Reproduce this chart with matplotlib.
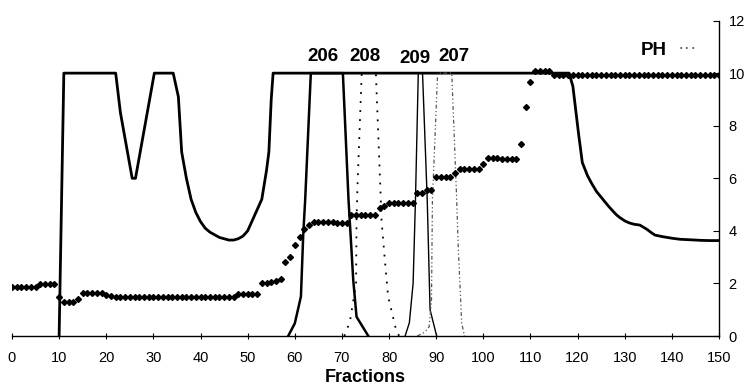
import numpy as np
import matplotlib.pyplot as plt

plt.rcParams['font.family'] = ['Liberation Sans', 'DejaVu Sans']

# absorbance trace (saturates at 10)
abs_x = [10, 11, 22, 23, 25.5, 26.2, 30.2, 34.2, 35.3, 36, 37, 38, 39, 40, 41, 42, 43, 44, 45,
         46, 47, 48, 49, 50, 51, 52, 53, 54, 54.5, 55, 55.4, 118.2, 119, 120.2, 121, 122.1,
         123, 124, 125.5, 126.5, 127.5, 128.3, 129, 130.1, 131, 132, 133.2, 134.7, 135.5,
         136.4, 138, 140, 141.7, 144, 146, 148, 150]
abs_y = [0, 10, 10, 8.5, 6.0, 6.0, 10, 10, 9.1, 7.0, 6.0, 5.2, 4.7, 4.35, 4.1, 3.95, 3.85, 3.75,
         3.7, 3.65, 3.65, 3.7, 3.8, 4.0, 4.4, 4.8, 5.2, 6.3, 7.0, 9.0, 10, 10, 9.5, 7.7, 6.6,
         6.1, 5.8, 5.5, 5.17, 4.95, 4.75, 4.6, 4.5, 4.37, 4.3, 4.25, 4.22, 4.06, 3.95, 3.84,
         3.78, 3.72, 3.68, 3.66, 3.64, 3.63, 3.63]

# peaks
p206_x = [58.6, 60, 61.3, 61.8, 62.2, 63.4, 70.2, 71.4, 72.4, 73.1, 75.6]
p206_y = [0, 0.48, 1.5, 3.9, 5.17, 10, 10, 5.17, 2.13, 0.73, 0]
p208_x = [70.5, 71.7, 73, 73.1, 73.3, 74.2, 77.2, 78.2, 78.4, 79.1, 79.8, 81.6, 82.2]
p208_y = [0, 0.55, 2.0, 4.4, 5.7, 10, 10, 5.4, 4.4, 2.9, 1.5, 0.15, 0]
p209_x = [83.4, 84.3, 85.1, 85.6, 86.2, 87.1, 88.1, 88.7, 90.1]
p209_y = [0, 0.5, 2.0, 5.17, 10, 10, 5.17, 1.0, 0]
p207_x = [86, 87.6, 88.5, 89, 89.2, 90.3, 93.3, 94.3, 94.7, 95.4, 96]
p207_y = [0, 0.15, 0.35, 1.37, 5.17, 10, 10, 5.4, 3.3, 0.5, 0]

# pH, one reading per fraction 0..150
ph = [1.85, 1.85, 1.85, 1.85, 1.85, 1.87, 1.97, 1.97, 1.97, 1.97,
      1.5, 1.3, 1.3, 1.3, 1.42, 1.62, 1.62, 1.62, 1.62, 1.62,
      1.57, 1.52, 1.5, 1.48, 1.48, 1.48, 1.48, 1.48, 1.48, 1.48,
      1.48, 1.48, 1.48, 1.48, 1.48, 1.48, 1.48, 1.48, 1.48, 1.48,
      1.48, 1.48, 1.48, 1.48, 1.48, 1.48, 1.48, 1.48, 1.58, 1.6,
      1.6, 1.6, 1.6, 2.0, 2.03, 2.06, 2.1, 2.15, 2.8, 3.0,
      3.45, 3.78, 4.06, 4.22, 4.35, 4.35, 4.35, 4.35, 4.35, 4.3,
      4.3, 4.3, 4.6, 4.6, 4.6, 4.6, 4.6, 4.6, 4.87, 4.95,
      5.07, 5.07, 5.07, 5.07, 5.07, 5.07, 5.45, 5.45, 5.55, 5.55,
      6.06, 6.06, 6.06, 6.06, 6.2, 6.34, 6.34, 6.34, 6.34, 6.34,
      6.56, 6.78, 6.78, 6.78, 6.72, 6.72, 6.72, 6.72, 7.32, 8.7,
      9.65, 10.08, 10.08, 10.08, 10.08, 9.92, 9.92, 9.92, 9.92, 9.92,
      9.92, 9.92, 9.92, 9.92, 9.92, 9.92, 9.92, 9.92, 9.92, 9.92,
      9.92, 9.92, 9.92, 9.92, 9.92, 9.92, 9.92, 9.92, 9.92, 9.92,
      9.92, 9.92, 9.92, 9.92, 9.92, 9.92, 9.92, 9.92, 9.92, 9.92,
      9.92]
fractions = np.arange(len(ph))

peak_labels = ['206', '208', '209', '207']
label_x = [65.9, 74.9, 85.4, 93.8]
label_y = [10.62, 10.62, 10.55, 10.62]

fig = plt.figure(figsize=(7.45, 3.88), dpi=100)
ax = fig.add_axes([0.0161, 0.134, 0.9490, 0.813])

ax.plot(abs_x, abs_y, color='black', lw=2.0, solid_joinstyle='round')
ax.plot(p206_x, p206_y, color='black', lw=1.8)
ax.plot(p208_x, p208_y, color='black', lw=1.3, ls=(0, (1, 4)))
ax.plot(p209_x, p209_y, color='black', lw=1.0)
ax.plot(p207_x, p207_y, color='#555555', lw=0.9, ls=(0, (3, 2, 1, 2, 1, 2)))
ax.plot(fractions, ph, color='black', lw=0, marker='D', markersize=3.0)

for t, x, y in zip(peak_labels, label_x, label_y):
    ax.text(x, y, t, ha='center', va='center', fontsize=13.5, fontweight='bold')
ax.text(136.2, 10.85, 'PH', ha='center', va='center', fontsize=13.5, fontweight='bold')
ax.text(143.2, 10.95, '···', ha='center', va='center', fontsize=14, color='#666666')

ax.set_xlim(0, 150)
ax.set_ylim(0, 12)
ax.set_xticks(np.arange(0, 151, 10))
ax.set_yticks(np.arange(0, 13, 2))
ax.yaxis.tick_right()
ax.spines['left'].set_visible(False)
ax.spines['top'].set_visible(False)
ax.spines['right'].set_linewidth(1.0)
ax.spines['bottom'].set_linewidth(1.0)
ax.tick_params(axis='x', direction='inout', length=4, labelsize=10.5, pad=9)
ax.tick_params(axis='y', direction='in', length=4, labelsize=10.5, pad=7)
ax.set_xlabel('Fractions', fontsize=13, fontweight='bold', labelpad=3)

fig.savefig('out.png', dpi=100)
